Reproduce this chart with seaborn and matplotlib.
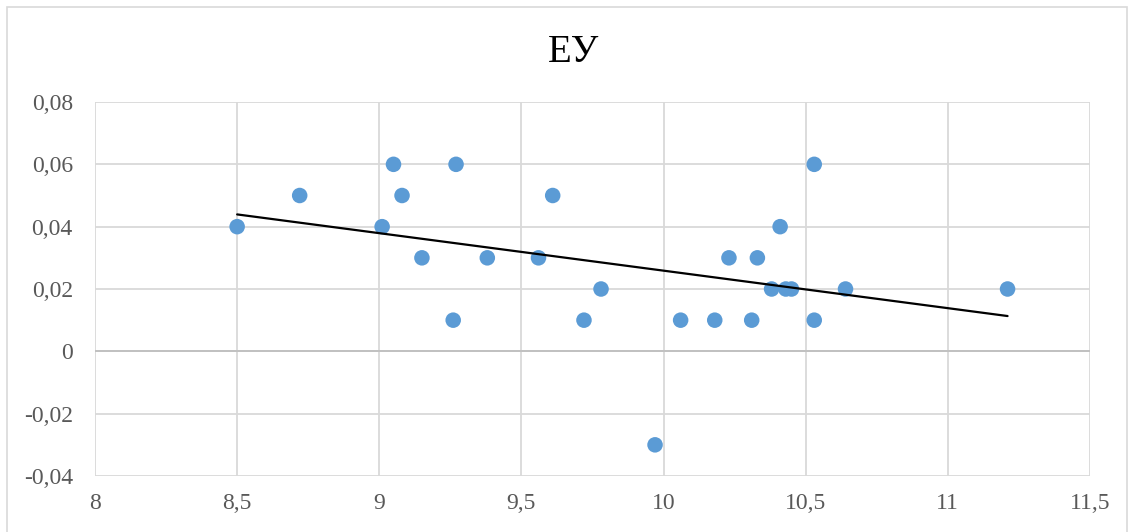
import numpy as np
import pandas as pd
import matplotlib
matplotlib.use("Agg")
import matplotlib.pyplot as plt
import seaborn as sns
from matplotlib.patches import Rectangle
from matplotlib.ticker import FuncFormatter

sns.set_theme(style="white")
plt.rcParams["font.family"] = ["Liberation Serif", "DejaVu Serif"]

# data
x_vals = [8.50, 8.72, 9.01, 9.05, 9.08, 9.15, 9.26, 9.27, 9.38, 9.56, 9.61, 9.72, 9.78, 9.97,
          10.06, 10.18, 10.23, 10.31, 10.33, 10.38, 10.41, 10.43, 10.45, 10.53, 10.53, 10.64, 11.21]
y_vals = [0.04, 0.05, 0.04, 0.06, 0.05, 0.03, 0.01, 0.06, 0.03, 0.03, 0.05, 0.01, 0.02, -0.03,
          0.01, 0.01, 0.03, 0.01, 0.03, 0.02, 0.04, 0.02, 0.02, 0.06, 0.01, 0.02, 0.02]
title = "ЕУ"
x_ticks = [8, 8.5, 9, 9.5, 10, 10.5, 11, 11.5]
y_ticks = [-0.04, -0.02, 0, 0.02, 0.04, 0.06, 0.08]

df = pd.DataFrame({"x": x_vals, "y": y_vals})

fig = plt.figure(figsize=(11.34, 5.32), dpi=100)
ax = fig.add_axes([95 / 1134, 1 - 476 / 532, 995 / 1134, 374 / 532])

# chart area border
fig.patches.append(Rectangle((7 / 1134, -0.01), 1120 / 1134, 1 - 7 / 532 + 0.01,
                             transform=fig.transFigure, fill=False,
                             edgecolor="#D9D9D9", linewidth=1.2))

sns.scatterplot(data=df, x="x", y="y", ax=ax, s=125, color="#5B9BD5",
                edgecolor="none", zorder=3)

# linear trend line
k, b = np.polyfit(df["x"], df["y"], 1)
xl = np.array([df["x"].min(), df["x"].max()])
ax.plot(xl, k * xl + b, color="black", linewidth=1.6, zorder=4)

ax.set_xlim(8, 11.5)
ax.set_ylim(-0.04, 0.08)
ax.set_xticks(x_ticks)
ax.set_yticks(y_ticks)


def comma_fmt(v, pos):
    s = f"{v:g}" if abs(v) > 1e-12 else "0"
    return s.replace(".", ",")


ax.xaxis.set_major_formatter(FuncFormatter(comma_fmt))
ax.yaxis.set_major_formatter(FuncFormatter(comma_fmt))
ax.grid(True, color="#D9D9D9", linewidth=1.3)
ax.axhline(0, color="#BFBFBF", linewidth=1.3, zorder=1)
for sp in ax.spines.values():
    sp.set_visible(False)
ax.tick_params(axis="both", length=0, labelsize=17, colors="#595959")
ax.tick_params(axis="x", pad=12)
ax.tick_params(axis="y", pad=16)
ax.set_xlabel("")
ax.set_ylabel("")
fig.text(574 / 1134, 1 - 62 / 532, title, fontsize=28, color="black",
         ha="center", va="baseline")

fig.savefig("out.png", dpi=100)
